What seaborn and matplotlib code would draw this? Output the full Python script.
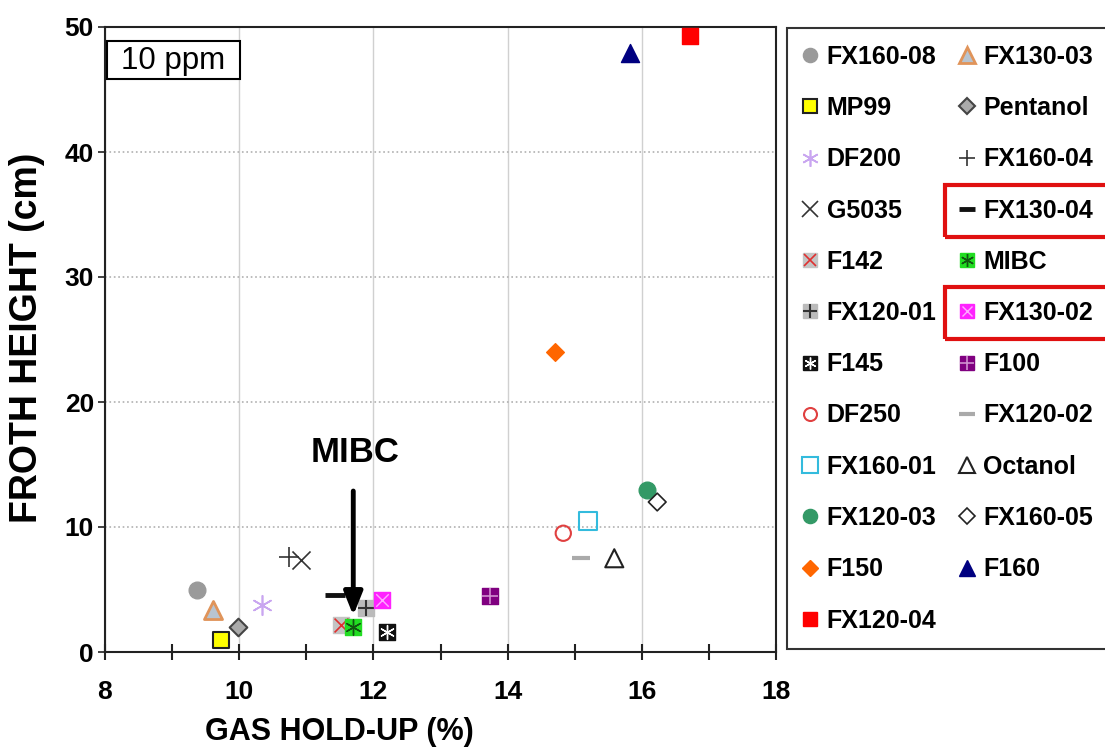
import matplotlib
matplotlib.use("Agg")
import matplotlib.pyplot as plt
import seaborn as sns
from matplotlib.lines import Line2D
from matplotlib.patches import Rectangle
from matplotlib.transforms import IdentityTransform
from matplotlib.ticker import MultipleLocator

# frother name, gas hold-up (%), froth height (cm) at 10 ppm
frothers = ["FX160-08", "FX130-03", "MP99", "Pentanol", "DF200", "FX160-04",
            "G5035", "FX130-04", "F142", "MIBC", "FX120-01", "FX130-02",
            "F145", "F100", "DF250", "FX120-02", "FX160-01", "Octanol",
            "FX120-03", "FX160-05", "F150", "F160", "FX120-04"]
gas_holdup = [9.37, 9.61, 9.73, 9.98, 10.34, 10.74,
              10.92, 11.43, 11.52, 11.70, 11.89, 12.13,
              12.20, 13.74, 14.83, 15.10, 15.20, 15.59,
              16.08, 16.23, 14.71, 15.82, 16.72]
froth_height = [5.0, 3.4, 1.0, 2.0, 3.8, 7.6,
                7.4, 4.6, 2.2, 2.0, 3.5, 4.2,
                1.6, 4.5, 9.5, 7.5, 10.5, 7.5,
                13.0, 12.0, 24.0, 47.9, 49.3]
highlighted = ["FX130-04", "FX130-02"]

AST = (6, 2, 0)
# marker layers: (marker, size pt, face, edge, linewidth)
styles = {
    "FX160-08": [("o", 12, "#9a9a9a", "#9a9a9a", 1)],
    "FX130-03": [("^", 13, "#b8c4d0", "#e0945a", 2)],
    "MP99": [("s", 12, "#ffff00", "#222222", 1.5)],
    "Pentanol": [("D", 9, "#aaaaaa", "#444444", 1.5)],
    "DF200": [(AST, 14, None, "#c9a6f0", 1.2)],
    "FX160-04": [("+", 14, None, "#333333", 1.2)],
    "G5035": [("x", 13, None, "#333333", 1.2)],
    "FX130-04": [("_", 14, None, "#111111", 3.5)],
    "F142": [("s", 12, "#c4c4c4", "#c4c4c4", 1), ("x", 10, None, "#e03030", 1.2)],
    "MIBC": [("s", 12, "#22dd22", "#22dd22", 1), (AST, 11, None, "#115511", 1)],
    "FX120-01": [("s", 12, "#bbbbbb", "#bbbbbb", 1), ("+", 12, None, "#333333", 1.5)],
    "FX130-02": [("s", 12, "#ff22ff", "#ff22ff", 1), ("x", 9, None, "#ffaaff", 1)],
    "F145": [("s", 12, "#111111", "#111111", 1), (AST, 10, None, "#ffffff", 1)],
    "F100": [("s", 12, "#800080", "#800080", 1), ("+", 12, None, "#d090d0", 1.2)],
    "DF250": [("o", 11, "none", "#e04040", 1.5)],
    "FX120-02": [("_", 13, None, "#aaaaaa", 3)],
    "FX160-01": [("s", 13, "none", "#33bbdd", 1.5)],
    "Octanol": [("^", 13, "none", "#222222", 1.5)],
    "FX120-03": [("o", 12, "#339966", "#339966", 1)],
    "FX160-05": [("D", 9, "none", "#222222", 1.2)],
    "F150": [("D", 9, "#ff6600", "#ff6600", 1)],
    "F160": [("^", 13, "#000080", "#000080", 1)],
    "FX120-04": [("s", 12, "#ff0000", "#ff0000", 1)],
}

sns.set_style("white")
plt.rcParams["font.family"] = ["Liberation Sans", "DejaVu Sans"]
plt.rcParams["text.color"] = "black"
plt.rcParams["axes.labelcolor"] = "black"
plt.rcParams["xtick.labelcolor"] = "black"
plt.rcParams["ytick.labelcolor"] = "black"

fig = plt.figure(figsize=(11.05, 7.48), dpi=100)
ax = fig.add_axes([105 / 1105, 1 - 652 / 748, 671 / 1105, 625 / 748])

for name, gx, fh in zip(frothers, gas_holdup, froth_height):
    for m, ms, fc, ec, lw in styles[name]:
        if fc is None:
            sns.scatterplot(x=[gx], y=[fh], marker=m, s=ms ** 2, color=ec,
                            linewidth=lw, ax=ax, zorder=3, legend=False)
        else:
            sns.scatterplot(x=[gx], y=[fh], marker=m, s=ms ** 2, color=ec,
                            facecolor=fc, edgecolor=ec, linewidth=lw,
                            ax=ax, zorder=3, legend=False)

ax.set_xlim(8, 18)
ax.set_ylim(0, 50)
ax.xaxis.set_major_locator(MultipleLocator(2))
ax.xaxis.set_minor_locator(MultipleLocator(1))
ax.yaxis.set_major_locator(MultipleLocator(10))
ax.xaxis.grid(True, color="#d0d0d0", lw=1, ls="-")
ax.yaxis.grid(True, color="#b0b0b0", lw=1.2, ls=":")
ax.set_axisbelow(True)
for sp in ax.spines.values():
    sp.set_color("#222222")
    sp.set_linewidth(1.5)
ax.tick_params(axis="x", which="both", direction="inout", length=12, width=1.5,
               color="#222222", bottom=True, pad=14)
ax.tick_params(axis="y", which="major", direction="out", length=5, width=1.2,
               color="#222222", left=True, pad=3)
for lab in ax.get_xticklabels() + ax.get_yticklabels():
    lab.set_fontsize(19)
    lab.set_fontweight("bold")

ax.set_xlabel("GAS HOLD-UP (%)", fontsize=22, fontweight="bold")
ax.set_ylabel("FROTH HEIGHT (cm)", fontsize=27, fontweight="bold")
ax.xaxis.set_label_coords(0.349, -0.104)
ax.yaxis.set_label_coords(-0.09, 0.502)

# "10 ppm" tag in the upper-left corner
ax.add_patch(Rectangle((0.003, 0.9168), 0.198, 0.0608, transform=ax.transAxes,
                       fill=True, fc="white", ec="black", lw=1.5, zorder=5))
ax.text(0.101, 0.946, "10 ppm", transform=ax.transAxes, ha="center", va="center",
        fontsize=22.5, zorder=6)

ax.annotate("", xy=(11.7, 2.7), xytext=(11.7, 13.1),
            arrowprops=dict(arrowstyle="-|>,head_width=0.28,head_length=0.7",
                            lw=3.5, color="black", mutation_scale=20), zorder=4)
ax.text(11.72, 16.0, "MIBC", ha="center", va="center", fontsize=25, fontweight="bold")

# legend, filled row by row
handles = []
for name in frothers:
    parts = []
    for m, ms, fc, ec, lw in styles[name]:
        parts.append(Line2D([], [], ls="none", marker=m, markersize=ms * 0.85,
                            markerfacecolor=ec if fc is None else fc,
                            markeredgecolor=ec, markeredgewidth=lw, color=ec))
    handles.append(tuple(parts) if len(parts) > 1 else parts[0])
order = list(range(0, len(frothers), 2)) + list(range(1, len(frothers), 2))
leg = fig.legend([handles[i] for i in order], [frothers[i] for i in order],
                 ncol=2, loc="upper left", bbox_to_anchor=(787 / 1105, 1 - 28 / 748),
                 bbox_transform=fig.transFigure, borderaxespad=0,
                 prop=dict(family="Liberation Sans", weight="bold", size=18),
                 handlelength=0.5, handletextpad=0.42, columnspacing=0.95,
                 labelspacing=1.09, borderpad=0.67, frameon=True, fancybox=False,
                 framealpha=1, edgecolor="#333333")
leg.get_frame().set_linewidth(1.5)

fig.canvas.draw()
renderer = fig.canvas.get_renderer()
for txt in leg.get_texts():
    if txt.get_text() in highlighted:
        bb = txt.get_window_extent(renderer)
        cy = (bb.y0 + bb.y1) / 2
        fig.patches.append(Rectangle((bb.x0 - 38, cy - 26), 400, 52, fill=False,
                                     ec="#e01010", lw=3, transform=IdentityTransform(),
                                     figure=fig, zorder=10))

fig.savefig("out.png", dpi=100)
